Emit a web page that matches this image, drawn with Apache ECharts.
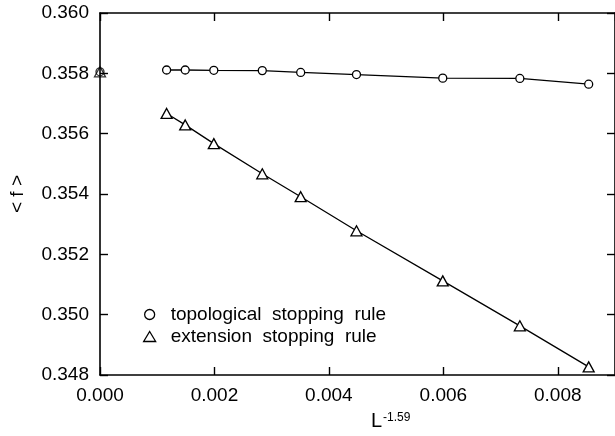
<!DOCTYPE html>
<html>
<head>
<meta charset="utf-8">
<script src="https://cdn.jsdelivr.net/npm/echarts@6/dist/echarts.min.js"></script>
<style>html,body{margin:0;padding:0;background:#fff;}#c{width:615px;height:436px;}</style>
</head>
<body>
<div id="c"></div>
<script>
// L^-1.59 values (x)
const xValues = [0.001164, 0.001489, 0.001989, 0.002836, 0.003507, 0.004482, 0.005990, 0.007337, 0.008540];
const topological = [0.35811, 0.35811, 0.35810, 0.35809, 0.35803, 0.35796, 0.35784, 0.35783, 0.35764];
const extension = [0.35667, 0.35629, 0.35567, 0.35467, 0.35391, 0.35278, 0.35112, 0.34963, 0.34827];
const extrapolated = [[0, 0.35805]];
const xTicks = [0, 0.002, 0.004, 0.006, 0.008];
const yTicks = [0.348, 0.350, 0.352, 0.354, 0.356, 0.358, 0.360];
const seriesNames = ['topological stopping rule', 'extension stopping rule'];

const FONT = 'Liberation Sans, Arial, Helvetica, sans-serif';
const pair = (ys) => xValues.map((x, i) => [x, ys[i]]);

const chart = echarts.init(document.getElementById('c'), null, {renderer: 'canvas'});
const axisCommon = {
  axisLine: {show: true, onZero: false, lineStyle: {color: '#000', width: 1.6}},
  axisTick: {show: true, inside: true, length: 8, lineStyle: {color: '#000', width: 1.4}},
  splitLine: {show: false}
};
chart.setOption({
  backgroundColor: '#fff',
  animation: false,
  grid: {left: 98, top: 13, right: -2, bottom: 61, containLabel: false},
  xAxis: [
    Object.assign({
      type: 'value', position: 'bottom', min: 0, max: 0.009, interval: 0.002,
      axisLabel: {show: true, margin: 11, fontSize: 19, color: '#000', fontFamily: FONT,
        showMaxLabel: false,
        formatter: v => xTicks.some(t => Math.abs(t - v) < 1e-9) ? v.toFixed(3) : ''}
    }, axisCommon),
    Object.assign({
      type: 'value', position: 'top', min: 0, max: 0.009, interval: 0.002,
      axisLabel: {show: false}
    }, axisCommon)
  ],
  yAxis: [
    Object.assign({
      type: 'value', position: 'left', min: 0.348, max: 0.360, interval: 0.002,
      name: '< f >', nameLocation: 'middle', nameGap: 73,
      nameTextStyle: {fontSize: 19, color: '#000', fontFamily: FONT},
      axisLabel: {show: true, margin: 11, fontSize: 19, color: '#000', fontFamily: FONT,
        formatter: v => yTicks.some(t => Math.abs(t - v) < 1e-9) ? v.toFixed(3) : ''}
    }, axisCommon),
    Object.assign({
      type: 'value', position: 'right', min: 0.348, max: 0.360, interval: 0.002,
      axisLabel: {show: false}
    }, axisCommon)
  ],
  legend: {
    orient: 'vertical', left: 138, top: 300, itemGap: 3, itemWidth: 12, itemHeight: 10,
    formatter: name => name.split(' ').join('  '),
    textStyle: {fontSize: 19, color: '#000', fontFamily: FONT, padding: [0, 0, 0, 10]},
    data: [
      {name: seriesNames[0], icon: 'circle', itemStyle: {color: '#fff', borderColor: '#000', borderWidth: 1.3}},
      {name: seriesNames[1], icon: 'triangle', itemStyle: {color: '#fff', borderColor: '#000', borderWidth: 1.3}}
    ]
  },
  graphic: [
    {type: 'text', left: 371, top: 411, style: {text: 'L', fontSize: 20, fill: '#000', fontFamily: FONT}},
    {type: 'text', left: 383, top: 412, style: {text: '-1.59', fontSize: 12, fill: '#000', fontFamily: FONT}}
  ],
  series: [
    {
      name: seriesNames[0], type: 'line', data: pair(topological),
      symbol: 'circle', symbolSize: 8, showAllSymbol: true,
      lineStyle: {color: '#000', width: 1.3},
      itemStyle: {color: '#fff', borderColor: '#000', borderWidth: 1.3}
    },
    {
      name: seriesNames[1], type: 'line', data: pair(extension),
      symbol: 'triangle', symbolSize: [11, 10], showAllSymbol: true,
      lineStyle: {color: '#000', width: 1.3},
      itemStyle: {color: '#fff', borderColor: '#000', borderWidth: 1.3}
    },
    {
      name: 'extrapolated-topological', type: 'scatter', data: extrapolated, clip: false,
      symbol: 'circle', symbolSize: 8,
      itemStyle: {color: 'rgba(0,0,0,0)', borderColor: '#000', borderWidth: 1.3}, z: 5
    },
    {
      name: 'extrapolated-extension', type: 'scatter', data: extrapolated, clip: false,
      symbol: 'triangle', symbolSize: [11, 10],
      itemStyle: {color: 'rgba(0,0,0,0)', borderColor: '#000', borderWidth: 1.3}, z: 5
    }
  ]
});
</script>
</body>
</html>
